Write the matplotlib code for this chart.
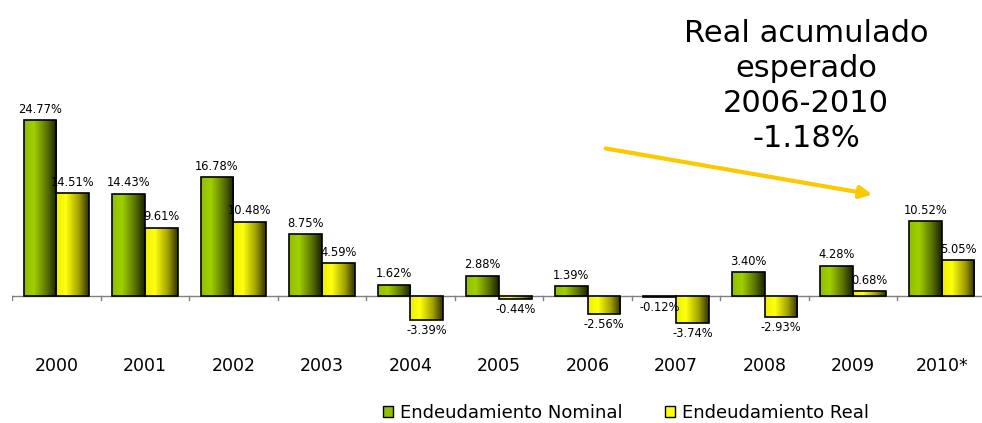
import numpy as np
import matplotlib.pyplot as plt
from matplotlib.colors import LinearSegmentedColormap
from matplotlib.patches import Patch

years = ['2000', '2001', '2002', '2003', '2004', '2005', '2006', '2007', '2008', '2009', '2010*']
nominal = [24.77, 14.43, 16.78, 8.75, 1.62, 2.88, 1.39, -0.12, 3.40, 4.28, 10.52]
real = [14.51, 9.61, 10.48, 4.59, -3.39, -0.44, -2.56, -3.74, -2.93, 0.68, 5.05]
series_names = ['Endeudamiento Nominal', 'Endeudamiento Real']
note = 'Real acumulado\nesperado\n2006-2010\n-1.18%'

green_cmap = LinearSegmentedColormap.from_list(
    'g', [(0.0, '#8fbf00'), (0.3, '#9fd000'), (0.7, '#5a7300'), (1.0, '#1a2200')])
yellow_cmap = LinearSegmentedColormap.from_list(
    'y', [(0.0, '#eeee00'), (0.3, '#ffff10'), (0.7, '#a0a000'), (1.0, '#333300')])

fig = plt.figure(figsize=(9.82, 4.23), dpi=100)
ax = fig.add_axes([12 / 982, 1 - 350 / 423, 974 / 982, (350 - 19) / 423])

x = np.arange(len(years))
w = 0.37


def gradient_bars(xs, vals, cmap):
    bars = ax.bar(xs, vals, width=w, color='none', edgecolor='black', linewidth=1.2, zorder=3)
    grad = np.linspace(0, 1, 64).reshape(1, -1)
    for b in bars:
        x0, x1 = b.get_x(), b.get_x() + b.get_width()
        y0 = min(b.get_y(), b.get_y() + b.get_height())
        y1 = max(b.get_y(), b.get_y() + b.get_height())
        im = ax.imshow(grad, cmap=cmap, extent=[x0, x1, y0, y1], aspect='auto', zorder=2)
        im.set_clip_path(b)
    return bars


gradient_bars(x - w / 2, nominal, green_cmap)
gradient_bars(x + w / 2, real, yellow_cmap)

for xs, vals in [(x - w / 2, nominal), (x + w / 2, real)]:
    for xi, v in zip(xs, vals):
        ax.text(xi, v + (0.6 if v >= 0 else -0.6), f'{v:.2f}%', ha='center',
                va='bottom' if v >= 0 else 'top', fontsize=8.3)

# zero line with category ticks
ax.axhline(0, color='#808080', linewidth=1, zorder=1)
for b in np.arange(len(years) + 1) - 0.5:
    ax.plot([b, b], [0, -0.6], color='#808080', linewidth=1, zorder=1)

ax.set_xlim(-0.5, len(years) - 0.5)
ax.set_ylim(-7.6, 39)
ax.set_xticks(x)
ax.set_xticklabels(years, fontsize=12.5)
ax.tick_params(axis='x', length=0, pad=5)
ax.set_yticks([])
for s in ax.spines.values():
    s.set_visible(False)

fig.text(806 / 982, 1 - 86 / 423, note, ha='center', va='center', fontsize=22,
         linespacing=1.27)
ax.annotate('', xy=(875 / 982, 1 - 195 / 423), xytext=(603 / 982, 1 - 148 / 423),
            xycoords='figure fraction', textcoords='figure fraction',
            arrowprops=dict(arrowstyle='-|>', color='#fcc800', lw=3, mutation_scale=18))

handles = [Patch(facecolor='#8fbf00', edgecolor='black'),
           Patch(facecolor='#ffff00', edgecolor='black')]
fig.legend(handles, series_names, loc='center', bbox_to_anchor=(626 / 982, 1 - 413 / 423),
           ncol=2, frameon=False, fontsize=13, handlelength=0.55, handleheight=0.55,
           handletextpad=0.4, columnspacing=2.3, borderpad=0)

fig.savefig('out.png', dpi=100)
